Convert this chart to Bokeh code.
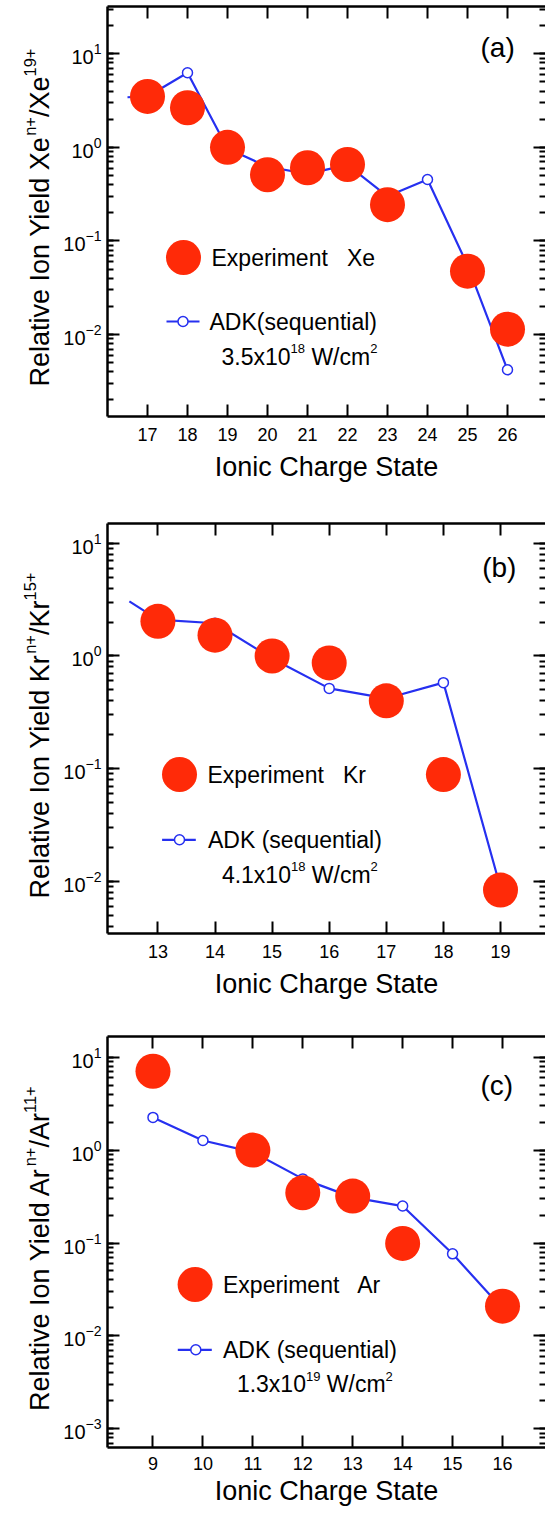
import math
from bokeh.plotting import figure
from bokeh.models import Range1d, LinearScale, LogAxis, LinearAxis, FixedTicker, LogTicker
from bokeh.layouts import column, row
from bokeh.embed import file_html
from bokeh.resources import INLINE
from bokeh.core.properties import value

# ---------------- data ----------------
# (a) Xe
xe_exp_x = [17, 18, 19, 20, 21, 22, 23, 25, 26]
xe_exp_y = [3.5, 2.65, 1.0, 0.51, 0.605, 0.656, 0.244, 0.0475, 0.0114]
xe_adk_x = [16.5, 17, 18, 19, 20, 21, 22, 23, 24, 25, 26]
xe_adk_y = [3.43, 3.5, 6.27, 0.97, 0.62, 0.52, 0.65, 0.30, 0.454, 0.055, 0.0042]
xe_ticks = [17, 18, 19, 20, 21, 22, 23, 24, 25, 26]

# (b) Kr
kr_exp_x = [13, 14, 15, 16, 17, 18, 19]
kr_exp_y = [2.03, 1.53, 1.0, 0.867, 0.40, 0.0887, 0.0084]
kr_adk_x = [12.5, 13, 14, 15, 16, 17, 18, 19]
kr_adk_y = [3.05, 2.1, 1.95, 0.95, 0.516, 0.42, 0.58, 0.0088]
kr_ticks = [13, 14, 15, 16, 17, 18, 19]

# (c) Ar
ar_exp_x = [9, 11, 12, 13, 14, 16]
ar_exp_y = [7.06, 1.0, 0.347, 0.32, 0.099, 0.0209]
ar_adk_x = [9, 10, 11, 12, 13, 14, 15, 16]
ar_adk_y = [2.25, 1.27, 0.95, 0.49, 0.31, 0.25, 0.0765, 0.0196]
ar_ticks = [9, 10, 11, 12, 13, 14, 15, 16]

# y titles as (text, is_superscript) pieces
ytitles = [
    [("Relative Ion Yield Xe", False), ("n+", True), ("/Xe", False), ("19+", True)],
    [("Relative Ion Yield Kr", False), ("n+", True), ("/Kr", False), ("15+", True)],
    [("Relative Ion Yield Ar", False), ("n+", True), ("/Ar", False), ("11+", True)],
]
intensity = [
    [("3.5x10", False), ("18", True), (" W/cm", False), ("2", True)],
    [("4.1x10", False), ("18", True), (" W/cm", False), ("2", True)],
    [("1.3x10", False), ("19", True), (" W/cm", False), ("2", True)],
]
exp_labels = ["Experiment\u00a0\u00a0 Xe", "Experiment\u00a0\u00a0 Kr", "Experiment\u00a0\u00a0 Ar"]
adk_labels = ["ADK(sequential)", "ADK (sequential)", "ADK (sequential)"]
panel_labels = ["(a)", "(b)", "(c)"]
xlabel = "Ionic Charge State"

# ---------------- style / layout ----------------
RED = "#ff2a08"
BLUE = "#2630f0"
FONT = "Liberation Sans"
TITLE_W = 55          # narrow figure holding the rotated y title
MAIN_W = 490          # main figure
BORDER_L = 52         # frame starts at TITLE_W + BORDER_L = 107

# advance widths (Liberation Sans / Arial metrics, per 1000 em) for layout of text pieces
AW = {" ": 278, "+": 584, ".": 278, "/": 278, "A": 667, "E": 667, "I": 278, "K": 667,
      "R": 722, "W": 944, "X": 667, "Y": 667, "a": 556, "c": 500, "d": 556, "e": 556,
      "i": 222, "l": 222, "m": 833, "n": 556, "o": 556, "r": 333, "t": 278, "v": 500,
      "x": 500}


def tw(s, size):
    return sum(AW.get(ch, 556) for ch in s) * size / 1000.0


panels = [
    dict(ex=xe_exp_x, ey=xe_exp_y, ax=xe_adk_x, ay=xe_adk_y, ticks=xe_ticks,
         xr=(16.0, 26.95), yr=(10 ** -2.876, 10 ** 1.505),
         h=516, top=6, fh=410, lso=11, tso=8,
         leg=dict(cx=76, cy=251, tx=104, lx0=59, lx1=92, ly=315, mx=75.5, atx=102,
                  ix=114, ib=350, px=373, py=40.7)),
    dict(ex=kr_exp_x, ey=kr_exp_y, ax=kr_adk_x, ay=kr_adk_y, ticks=kr_ticks,
         xr=(12.117, 19.788), yr=(10 ** -2.461, 10 ** 1.1747),
         h=514, top=7, fh=410, lso=11, tso=8,
         leg=dict(cx=72, cy=251, tx=100, lx0=54.6, lx1=88.3, ly=316.3, mx=72, atx=100.5,
                  ix=114.4, ib=351, px=374.7, py=43.7)),
    dict(ex=ar_exp_x, ey=ar_exp_y, ax=ar_adk_x, ay=ar_adk_y, ticks=ar_ticks,
         xr=(8.089, 16.861), yr=(10 ** -3.201, 10 ** 1.2228),
         h=482, top=6, fh=411, lso=9, tso=3,
         leg=dict(cx=87.6, cy=248, tx=115.5, lx0=70.3, lx1=104.3, ly=313.3, mx=88.3, atx=115.5,
                  ix=129.4, ib=347.5, px=373, py=49)),
]

YT_MAIN, YT_SUP = 27, 16.5
YT_BASE_X = 39
YT_SUP_X = 29
INT_MAIN, INT_SUP = 23, 13


def style_axis(ax, labels=True):
    ax.axis_line_width = 2.5
    ax.axis_line_color = "black"
    ax.major_tick_line_width = 2
    ax.minor_tick_line_width = 2
    ax.major_tick_in = 12
    ax.major_tick_out = 0
    ax.minor_tick_in = 6
    ax.minor_tick_out = 0
    ax.major_tick_line_color = "black"
    ax.minor_tick_line_color = "black"
    ax.major_label_text_font = FONT
    if labels:
        ax.major_label_text_color = "black"
    else:
        ax.major_label_text_font_size = "1px"
        ax.major_label_text_color = None
        ax.major_label_standoff = 0


rows = []
for i, pn in enumerate(panels):
    fw = MAIN_W - BORDER_L
    fh = pn["fh"]
    H = pn["h"]

    # ---- narrow figure with the rotated y title (frame covers the whole canvas) ----
    t = figure(frame_width=TITLE_W, frame_height=H,
               x_range=Range1d(0, TITLE_W), y_range=Range1d(H, 0),
               output_backend="svg", toolbar_location=None,
               x_axis_location=None, y_axis_location=None, min_border=0,
               min_border_left=0, min_border_right=0, min_border_top=0, min_border_bottom=0)
    t.outline_line_color = None
    t.xgrid.visible = False
    t.ygrid.visible = False
    pieces = ytitles[i]
    total = sum(tw(s, YT_SUP if sup else YT_MAIN) for s, sup in pieces)
    ypos = pn["top"] + fh / 2 + total / 2
    for s, sup in pieces:
        size = YT_SUP if sup else YT_MAIN
        t.text([YT_SUP_X if sup else YT_BASE_X], [ypos], text=[s], angle=math.pi / 2,
               text_font=value(FONT), text_font_size=f"{size}px", text_color="black",
               text_align="left", text_baseline="alphabetic")
        ypos -= tw(s, size)

    # ---- main figure ----
    p = figure(width=MAIN_W, height=H, y_axis_type="log",
               x_range=Range1d(*pn["xr"]), y_range=Range1d(*pn["yr"]),
               output_backend="svg", toolbar_location=None,
               min_border_left=BORDER_L, min_border_right=0, min_border_top=pn["top"],
               min_border_bottom=H - pn["top"] - fh)
    p.outline_line_color = None
    p.xgrid.visible = False
    p.ygrid.visible = False
    p.background_fill_color = "white"
    p.border_fill_color = "white"
    p.extra_x_ranges = {"px": Range1d(0, fw)}
    p.extra_y_ranges = {"py": Range1d(fh, 0)}
    p.extra_x_scales = {"px": LinearScale()}
    p.extra_y_scales = {"py": LinearScale()}

    # bottom axis
    xb = p.xaxis[0]
    xb.ticker = FixedTicker(ticks=pn["ticks"], minor_ticks=[])
    style_axis(xb)
    xb.major_label_text_font_size = "18px"
    xb.major_label_standoff = pn["lso"]
    xb.axis_label = xlabel
    xb.axis_label_text_font = FONT
    xb.axis_label_text_font_size = "27px"
    xb.axis_label_text_font_style = "normal"
    xb.axis_label_text_color = "black"
    xb.axis_label_standoff = pn["tso"]

    # left axis
    yl = p.yaxis[0]
    yl.ticker = LogTicker(num_minor_ticks=10)
    style_axis(yl)
    yl.major_label_text_font_size = "20px"
    yl.major_label_standoff = 6

    # top & right axes (ticks only)
    xt = LinearAxis(ticker=FixedTicker(ticks=pn["ticks"], minor_ticks=[]))
    style_axis(xt, labels=False)
    p.add_layout(xt, "above")
    yr_ax = LogAxis(ticker=LogTicker(num_minor_ticks=10))
    style_axis(yr_ax, labels=False)
    yr_ax.axis_line_color = None
    p.add_layout(yr_ax, "right")

    # ADK line + open circles
    p.line(pn["ax"], pn["ay"], line_color=BLUE, line_width=2.2)
    mx = [x for x, y in zip(pn["ax"], pn["ay"]) if float(x).is_integer()]
    my = [y for x, y in zip(pn["ax"], pn["ay"]) if float(x).is_integer()]
    p.scatter(mx, my, marker="circle", size=10, fill_color="white",
              line_color=BLUE, line_width=1.5)
    # experiment
    p.scatter(pn["ex"], pn["ey"], marker="circle", size=35, fill_color=RED, line_color=None)

    # legend (pixel coordinates inside the frame)
    lg = pn["leg"]
    p.scatter([lg["cx"]], [lg["cy"]], marker="circle", size=35, fill_color=RED, line_color=None,
              x_range_name="px", y_range_name="py")
    p.line([lg["lx0"], lg["lx1"]], [lg["ly"], lg["ly"]], line_color=BLUE, line_width=2.2,
           x_range_name="px", y_range_name="py")
    p.scatter([lg["mx"]], [lg["ly"]], marker="circle", size=10, fill_color="white",
              line_color=BLUE, line_width=1.5, x_range_name="px", y_range_name="py")
    p.text([lg["tx"], lg["atx"]], [lg["cy"], lg["ly"]],
           text=[exp_labels[i], adk_labels[i]],
           text_font=value(FONT), text_font_size=f"{INT_MAIN}px", text_color="black",
           text_baseline="middle", text_align="left",
           x_range_name="px", y_range_name="py")
    # intensity line with real superscripts
    xpos = lg["ix"]
    for s, sup in intensity[i]:
        size = INT_SUP if sup else INT_MAIN
        p.text([xpos], [lg["ib"] - (8 if sup else 0)], text=[s.replace(" ", "\u00a0")],
               text_font=value(FONT), text_font_size=f"{size}px", text_color="black",
               text_baseline="alphabetic", text_align="left",
               x_range_name="px", y_range_name="py")
        xpos += tw(s, size)
    p.text([lg["px"]], [lg["py"]], text=[panel_labels[i]],
           text_font=value(FONT), text_font_size="28px", text_color="black",
           text_baseline="middle", text_align="left",
           x_range_name="px", y_range_name="py")
    rows.append(row(t, p, spacing=0))

layout = column(*rows, spacing=0)
open("out.html", "w").write(file_html(layout, INLINE))
